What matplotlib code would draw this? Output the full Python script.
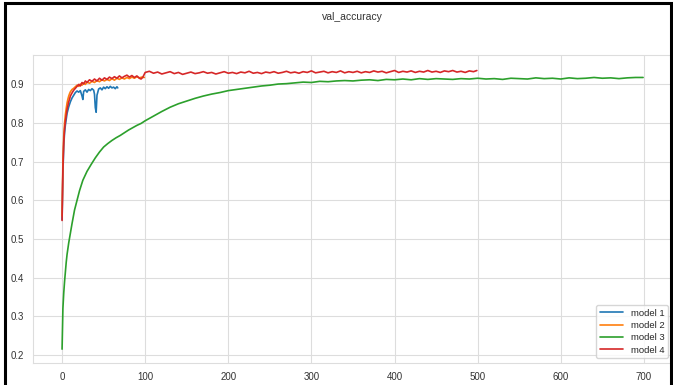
import matplotlib
matplotlib.use("Agg")
import matplotlib.pyplot as plt
import seaborn as sns
from matplotlib.patches import Rectangle

# ---------------- data ----------------
labels = ["model 1", "model 2", "model 3", "model 4"]

epochs_m1 = [0, 1, 2, 3, 4, 5, 6, 8, 10, 12, 14, 16, 18, 20, 22, 24, 25, 26, 28, 30,
             32, 34, 36, 38, 39, 40, 41, 42, 44, 46, 48, 50, 52, 54, 56, 58, 60, 62, 64, 66, 67]
acc_m1 = [0.55, 0.67, 0.74, 0.775, 0.795, 0.81, 0.825, 0.842, 0.855, 0.865, 0.872, 0.879, 0.883, 0.880,
          0.884, 0.870, 0.861, 0.882, 0.886, 0.880, 0.887, 0.884, 0.889, 0.885, 0.875, 0.840, 0.828,
          0.872, 0.888, 0.891, 0.886, 0.893, 0.889, 0.894, 0.890, 0.895, 0.891, 0.893, 0.889, 0.894, 0.891]

epochs_m2 = [0, 1, 2, 3, 4, 5, 6, 7, 8, 9, 10, 12, 14, 16, 18, 20, 22, 24, 26, 28, 30, 33, 36, 39,
             42, 45, 48, 51, 54, 57, 60, 63, 66, 69, 72, 75, 78, 81, 84, 87, 90, 93, 96, 99]
acc_m2 = [0.56, 0.70, 0.765, 0.80, 0.822, 0.838, 0.852, 0.862, 0.870, 0.876, 0.881, 0.887, 0.890,
          0.894, 0.898, 0.895, 0.901, 0.898, 0.904, 0.900, 0.906, 0.903, 0.908, 0.905, 0.910, 0.907,
          0.912, 0.909, 0.913, 0.910, 0.915, 0.911, 0.916, 0.913, 0.917, 0.914, 0.918, 0.915, 0.919,
          0.916, 0.920, 0.917, 0.919, 0.918]

epochs_m3 = [0, 1, 2, 3, 4, 5, 6, 8, 10, 12, 15, 18, 21, 25, 30, 35, 40, 45, 50, 55, 60, 65, 70, 75,
             80, 85, 90, 95, 100, 110, 120, 130, 140, 150, 160, 170, 180, 190, 200, 210, 220, 230,
             240, 250, 260, 270, 280, 290, 300, 310, 320, 330, 340, 350, 360, 370, 380, 390, 400,
             410, 420, 430, 440, 450, 460, 470, 480, 490, 500, 510, 520, 530, 540, 550, 560, 570,
             580, 590, 600, 610, 620, 630, 640, 650, 660, 670, 680, 690, 699]
acc_m3 = [0.215, 0.32, 0.36, 0.39, 0.415, 0.44, 0.46, 0.49, 0.515, 0.54, 0.575, 0.60, 0.625, 0.652,
          0.675, 0.693, 0.710, 0.725, 0.738, 0.747, 0.755, 0.762, 0.768, 0.775, 0.782, 0.788, 0.794,
          0.799, 0.806,
          0.818, 0.830, 0.841, 0.850, 0.857, 0.864, 0.870, 0.875, 0.879, 0.884,
          0.887, 0.890, 0.893, 0.896, 0.898, 0.901, 0.902, 0.904, 0.906, 0.905,
          0.908, 0.907, 0.909, 0.910, 0.909, 0.911, 0.912, 0.910, 0.913, 0.912,
          0.914, 0.912, 0.915, 0.913, 0.915, 0.914, 0.913, 0.915, 0.914, 0.916,
          0.914, 0.915, 0.913, 0.916, 0.915, 0.914, 0.917, 0.915, 0.916, 0.914,
          0.917, 0.915, 0.916, 0.918, 0.916, 0.917, 0.915, 0.917, 0.918, 0.918]

epochs_m4 = [0, 1, 2, 3, 4, 5, 6, 7, 8, 9, 10, 12, 14, 16, 18, 20, 22, 24, 26, 28, 30, 33, 36, 39,
             42, 45, 48, 51, 54, 57, 60, 63, 66, 69, 72, 75, 78, 81, 84, 87, 90, 93, 95, 97,
             100, 105, 110, 115, 120, 125, 130, 135, 140, 145, 150, 155, 160, 165, 170, 175, 180,
             185, 190, 195, 200, 205, 210, 215, 220, 225, 230, 235, 240, 245, 250, 255, 260, 265,
             270, 275, 280, 285, 290, 295, 300, 305, 310, 315, 320, 325, 330, 335, 340, 345, 350,
             355, 360, 365, 370, 375, 380, 385, 390, 395, 400, 405, 410, 415, 420, 425, 430, 435,
             440, 445, 450, 455, 460, 465, 470, 475, 480, 485, 490, 495, 499]
acc_m4 = [0.548, 0.68, 0.75, 0.785, 0.805, 0.82, 0.835, 0.845, 0.855, 0.862, 0.870, 0.878, 0.885,
          0.890, 0.895, 0.900, 0.896, 0.905, 0.901, 0.909, 0.905, 0.912, 0.908, 0.914, 0.909, 0.916,
          0.911, 0.917, 0.913, 0.919, 0.915, 0.920, 0.916, 0.922, 0.917, 0.921, 0.924, 0.919, 0.923,
          0.918, 0.922, 0.916, 0.914, 0.918,
          0.931, 0.934, 0.929, 0.932, 0.927, 0.930, 0.933, 0.928, 0.931, 0.926, 0.929, 0.932, 0.928,
          0.930, 0.933, 0.929, 0.931, 0.927, 0.930, 0.933, 0.929, 0.931, 0.928, 0.932, 0.930, 0.934,
          0.929, 0.931, 0.928, 0.932, 0.930, 0.933, 0.929, 0.931, 0.934, 0.930, 0.932, 0.929, 0.933,
          0.931, 0.935, 0.930, 0.932, 0.934, 0.930, 0.933, 0.931, 0.935, 0.930, 0.933, 0.931, 0.934,
          0.930, 0.933, 0.931, 0.935, 0.932, 0.934, 0.930, 0.933, 0.936, 0.931, 0.934, 0.932, 0.935,
          0.931, 0.934, 0.932, 0.936, 0.932, 0.934, 0.931, 0.935, 0.933, 0.936, 0.932, 0.934, 0.931,
          0.935, 0.933, 0.936]

xticks = [0, 100, 200, 300, 400, 500, 600, 700]
yticks = [0.2, 0.3, 0.4, 0.5, 0.6, 0.7, 0.8, 0.9]

# ---------------- plot ----------------
sns.set_style("whitegrid")
plt.rcParams["font.family"] = ["Liberation Sans", "DejaVu Sans"]

fig = plt.figure(figsize=(6.73, 3.85), dpi=100)
ax = fig.add_axes([0.049, 0.057, 0.951, 0.800])

series = [(epochs_m1, acc_m1), (epochs_m2, acc_m2), (epochs_m3, acc_m3), (epochs_m4, acc_m4)]
for (ex, ey), lab in zip(series, labels):
    ax.plot(ex, ey, label=lab, lw=1.2)

ax.set_xlim(-35, 735)
ax.set_ylim(0.179, 0.976)
ax.set_xticks(xticks)
ax.set_yticks(yticks)
ax.set_yticklabels([f"{v:.1f}" for v in yticks])
ax.tick_params(labelsize=7, colors="#333333", pad=3)
for s in ax.spines.values():
    s.set_edgecolor("#dddddd")
ax.grid(color="#dddddd", lw=0.8)

ax.legend(loc="lower right", fontsize=6.8, frameon=True, handlelength=2.5,
          borderpad=0.4, labelspacing=0.35)

fig.text(0.523, 0.956, "val_accuracy", ha="center", va="center", fontsize=7.5, color="#333333")

# screenshot frame
fig.patches.append(Rectangle((5 / 673, -0.05), (671 - 5) / 673, 1.05 - 3 / 385,
                             transform=fig.transFigure, fill=False, edgecolor="black", lw=2.2))

fig.savefig("out.png", dpi=100)
